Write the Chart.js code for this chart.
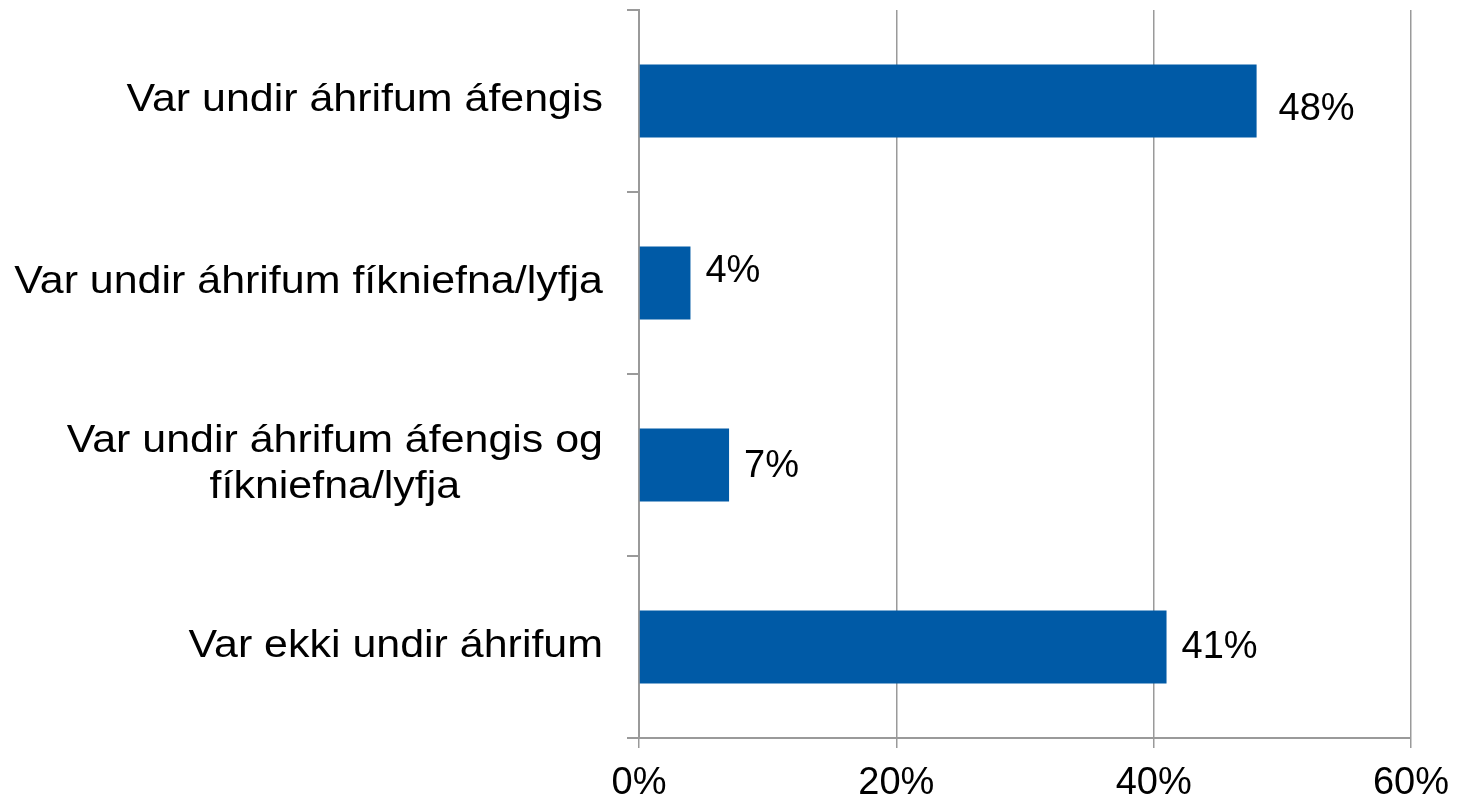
<!DOCTYPE html>
<html>
<head>
<meta charset="utf-8">
<script src="https://cdn.jsdelivr.net/npm/chart.js@4/dist/chart.umd.min.js"></script>
<style>
    html, body { margin: 0; padding: 0; background: #fff; }
    #wrap { width: 1458px; height: 799px; }
</style>
</head>
<body>
<div id="wrap"><canvas id="myChart"></canvas></div>
<script>
const categories = [
    ["Var undir áhrifum áfengis"],
    ["Var undir áhrifum fíkniefna/lyfja"],
    ["Var undir áhrifum áfengis og", "fíkniefna/lyfja"],
    ["Var ekki undir áhrifum"]
];
const shares = [48, 4, 7, 41];
const xTicks = [0, 20, 40, 60];

const FONT = "'Liberation Sans', Arial, sans-serif";
const AXIS = "#9a9a9a";

// category labels drawn by hand so the two-line one is centred on itself
// (reference text is a bit wider than Liberation Sans, so stretch it a little)
const catLabels = {
    id: 'catLabels',
    afterDraw(chart) {
        const ctx = chart.ctx;
        const y = chart.scales.y;
        const sx = 1.13, right = 603, lh = 46;
        ctx.save();
        ctx.font = "38px " + FONT;
        ctx.fillStyle = "#000";
        ctx.textAlign = "center";
        ctx.textBaseline = "middle";
        categories.forEach((lines, i) => {
            const w = Math.max(...lines.map(l => ctx.measureText(l).width)) * sx;
            const cx = right - w / 2;
            const cy = y.getPixelForValue(i);
            lines.forEach((l, k) => {
                ctx.save();
                ctx.translate(cx, cy + (k - (lines.length - 1) / 2) * lh);
                ctx.scale(sx, 1);
                ctx.fillText(l, 0, 0);
                ctx.restore();
            });
        });
        ctx.restore();
    }
};

// value labels right of each bar
const valueLabels = {
    id: 'valueLabels',
    afterDatasetsDraw(chart, args, opts) {
        const ctx = chart.ctx;
        const meta = chart.getDatasetMeta(0);
        ctx.save();
        ctx.font = "38px " + FONT;
        ctx.fillStyle = "#000";
        ctx.textAlign = "left";
        ctx.textBaseline = "middle";
        meta.data.forEach((bar, i) => {
            const s = opts.shift[i] || [0, 0];
            ctx.fillText(shares[i] + "%", bar.x + 15 + s[0], bar.y + s[1]);
        });
        ctx.restore();
    }
};

new Chart(document.getElementById('myChart'), {
    type: 'bar',
    data: {
        labels: categories.map(c => c.join(" ")),
        datasets: [{
            data: shares,
            backgroundColor: "#005AA6",
            borderWidth: 0,
            barPercentage: 1,
            categoryPercentage: 0.4
        }]
    },
    options: {
        indexAxis: 'y',
        responsive: true,
        maintainAspectRatio: false,
        animation: false,
        layout: { padding: { top: 10, right: 47, bottom: 0, left: 0 } },
        plugins: {
            legend: { display: false },
            tooltip: { enabled: false },
            valueLabels: { shift: [[7, 9], [0, -11], [0, 2], [0, 1]] }
        },
        scales: {
            x: {
                min: 0,
                max: 60,
                afterBuildTicks: s => { s.ticks = xTicks.map(v => ({ value: v })); },
                afterFit: s => { s.height = 61; s.paddingLeft = 0; s.paddingRight = 0; },
                border: { color: AXIS, width: 2 },
                grid: { color: AXIS, lineWidth: 1.5, tickLength: 10, drawTicks: true },
                ticks: {
                    color: "#000",
                    padding: 13,
                    font: { family: FONT, size: 38 },
                    maxRotation: 0,
                    callback: v => v + "%"
                }
            },
            y: {
                afterFit: s => { s.width = 639; },
                border: { color: AXIS, width: 2 },
                grid: { color: AXIS, lineWidth: 2, tickLength: 12, drawOnChartArea: false, offset: true },
                ticks: { display: false }
            }
        }
    },
    plugins: [catLabels, valueLabels]
});
</script>
</body>
</html>
